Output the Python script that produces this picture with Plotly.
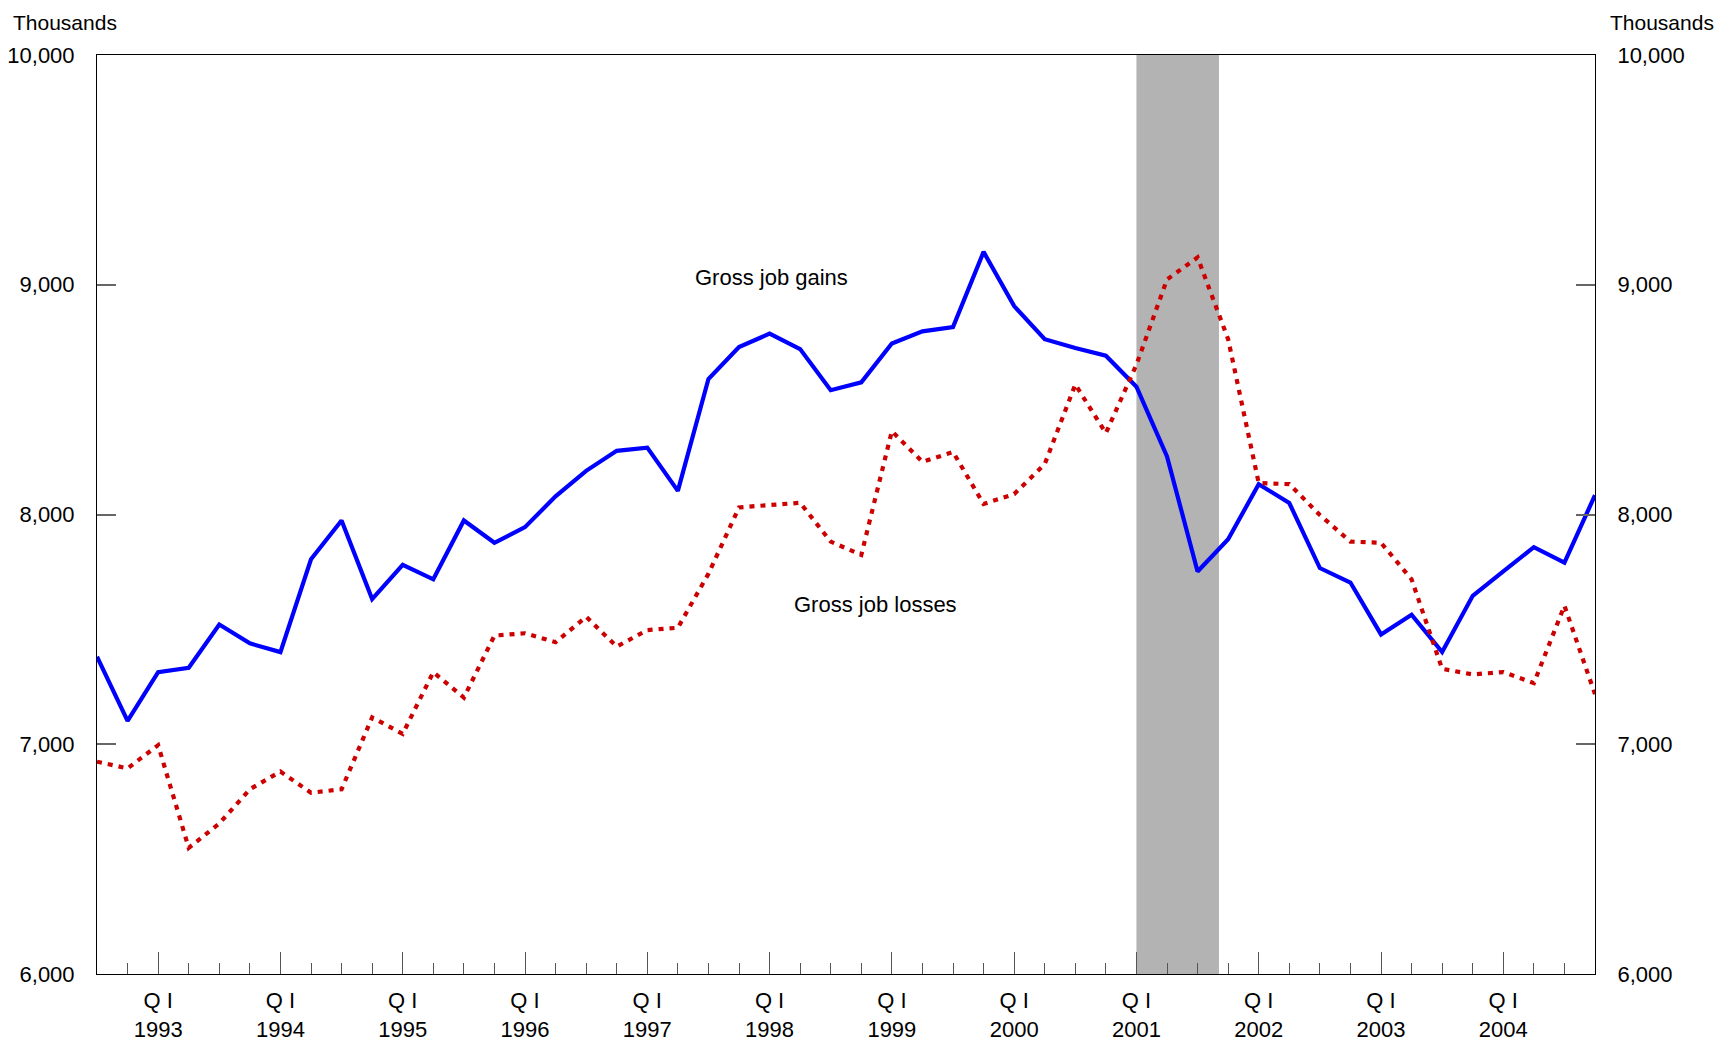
import plotly.graph_objects as go

# Quarters 1992 Q3 .. 2004 Q4 (index 0..49)
quarters = list(range(50))
gains = [7381, 7102, 7314, 7333, 7521, 7439, 7401, 7805, 7974, 7632,
         7781, 7718, 7974, 7877, 7945, 8079, 8190, 8277, 8291, 8103,
         8590, 8729, 8787, 8720, 8541, 8575, 8744, 8797, 8816, 9143,
         8907, 8763, 8725, 8691, 8556, 8253, 7752, 7892, 8132, 8050,
         7767, 7704, 7478, 7564, 7401, 7646, 7752, 7858, 7791, 8084]
losses = [6924, 6895, 6996, 6549, 6655, 6804, 6881, 6789, 6804, 7117,
          7045, 7314, 7203, 7473, 7483, 7444, 7555, 7425, 7497, 7507,
          7742, 8031, 8041, 8051, 7882, 7824, 8363, 8229, 8272, 8046,
          8089, 8219, 8566, 8354, 8652, 9023, 9119, 8763, 8137, 8132,
          7998, 7882, 7877, 7718, 7328, 7304, 7314, 7266, 7603, 7218]
year_tick_vals = [2, 6, 10, 14, 18, 22, 26, 30, 34, 38, 42, 46]
year_labels = ["1993", "1994", "1995", "1996", "1997", "1998", "1999",
               "2000", "2001", "2002", "2003", "2004"]
recession = [34, 36.7]
y_ticks = [6000, 7000, 8000, 9000, 10000]
y_labels = ["6,000", "7,000", "8,000", "9,000", "10,000"]

FONT = "Liberation Sans, Arial, sans-serif"
FS = 22

fig = go.Figure()
fig.add_trace(go.Scatter(x=quarters, y=gains, mode="lines",
                         line=dict(color="#0000FF", width=4.2), showlegend=False))
fig.add_trace(go.Scatter(x=quarters, y=losses, mode="lines",
                         line=dict(color="#CC0000", width=4.2, dash="5px,6px"),
                         showlegend=False))
# invisible trace for right axis
fig.add_trace(go.Scatter(x=[quarters[0]], y=[y_ticks[0]], yaxis="y2", mode="lines",
                         line=dict(width=0), showlegend=False, hoverinfo="skip"))

fig.add_shape(type="rect", xref="x", yref="paper", x0=recession[0], x1=recession[1],
              y0=0, y1=1, fillcolor="#B3B3B3", line=dict(width=0), layer="below")

OFF = 8  # page body margin
W, H = 1734 - OFF, 1044 - OFF
L, T = 97 - OFF, 55 - OFF
pw, ph = 1498, 919
R = W - L - pw
B = H - T - ph

fig.update_layout(
    width=W, height=H,
    margin=dict(l=L, r=R, t=T, b=B, autoexpand=False),
    plot_bgcolor="white", paper_bgcolor="white",
    font=dict(family=FONT, size=FS, color="black"),
    xaxis=dict(range=[0, 49], showgrid=False, zeroline=False, automargin=False,
               showline=True, linecolor="black", linewidth=1, mirror=True,
               tickvals=year_tick_vals,
               ticktext=["Q I<br>" + y for y in year_labels],
               ticks="inside", ticklen=22, tickcolor="#555555", tickwidth=1,
               ticklabelstandoff=7,
               minor=dict(dtick=1, tick0=0, ticks="inside", ticklen=11,
                          tickcolor="#555555", tickwidth=1)),
    yaxis=dict(range=[6000, 10000], showgrid=False, zeroline=False, automargin=False,
               showline=True, linecolor="black", linewidth=1,
               tickvals=y_ticks, ticktext=y_labels,
               ticks="inside", ticklen=19, tickcolor="#666666", tickwidth=1.5,
               ticklabelstandoff=17),
    yaxis2=dict(range=[6000, 10000], overlaying="y", side="right", automargin=False,
                showgrid=False, zeroline=False,
                showline=True, linecolor="black", linewidth=1,
                tickvals=y_ticks, ticktext=y_labels,
                ticks="inside", ticklen=19, tickcolor="#666666", tickwidth=1.5,
                ticklabelstandoff=17),
)

# positions given in window pixels
def px_x(px):
    return (px - OFF - L) / pw

def px_y(py):
    return (H - B - (py - OFF)) / ph

annos = [
    dict(text="Thousands", x=px_x(11), y=px_y(OFF + 0.5), xanchor="left", yanchor="top",
         size=21),
    dict(text="Thousands", x=px_x(1716), y=px_y(OFF + 0.5), xanchor="right", yanchor="top",
         size=21),
    dict(text="Gross job gains", x=px_x(771), y=px_y(277), xanchor="center", yanchor="middle",
         size=FS),
    dict(text="Gross job losses", x=px_x(875), y=px_y(604), xanchor="center", yanchor="middle",
         size=FS),
]
for a in annos:
    size = a.pop("size")
    fig.add_annotation(xref="paper", yref="paper", showarrow=False,
                       font=dict(family=FONT, size=size, color="black"), **a)

fig.write_html("out.html")
